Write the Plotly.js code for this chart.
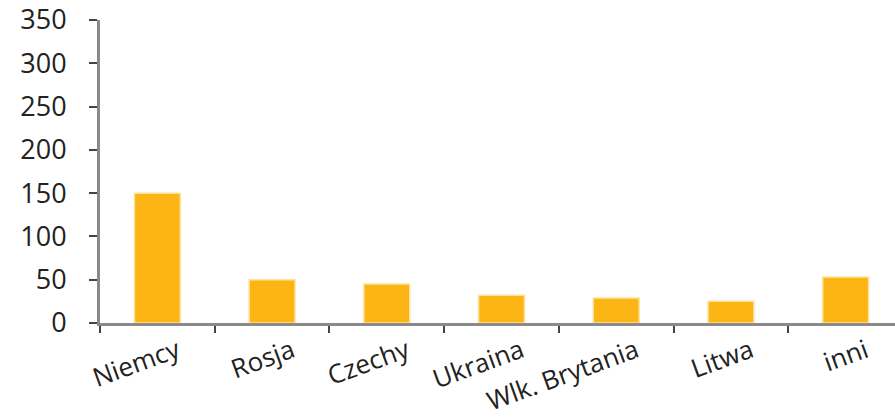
<!DOCTYPE html>
<html>
<head>
<meta charset="utf-8">
<script src="https://cdn.plot.ly/plotly-3.0.1.min.js"></script>
<style>html,body{margin:0;padding:0;background:#fff;}#chart{width:895px;height:419px;}</style>
</head>
<body>
<div id="chart"></div>
<script>
const categories = ["Niemcy", "Rosja", "Czechy", "Ukraina", "Wlk. Brytania", "Litwa", "inni"];
const values = [150, 50, 45, 32, 29, 25, 53];
const yTicks = [0, 50, 100, 150, 200, 250, 300, 350];

const trace = {
  type: "bar",
  x: categories,
  y: values,
  marker: {color: "#FCB515", line: {color: "#FFE39A", width: 1.5}},
  hoverinfo: "skip"
};

const layout = {
  width: 895, height: 419,
  margin: {l: 100, r: 0, t: 20, b: 96},
  paper_bgcolor: "#fff", plot_bgcolor: "#fff",
  bargap: 0.6,
  showlegend: false,
  font: {family: "Open Sans, sans-serif", color: "#222", size: 27},
  xaxis: {
    type: "category",
    range: [-0.5, 6.43],
    showline: true, linecolor: "#8a8a8a", linewidth: 3,
    ticks: "outside", tickson: "boundaries", ticklen: 7, tickwidth: 2, tickcolor: "#444",
    tickangle: -20,
    ticklabelshift: 20,
    ticklabelstandoff: 0,
    ticklabeloverflow: "allow",
    tickfont: {size: 26, color: "#222"},
    showgrid: false, zeroline: false
  },
  yaxis: {
    range: [0, 350],
    tickvals: yTicks,
    ticktext: yTicks.map(String),
    showline: true, linecolor: "#8a8a8a", linewidth: 3,
    ticks: "outside", ticklen: 8, tickwidth: 2, tickcolor: "#444",
    ticklabelstandoff: 17,
    ticklabeloverflow: "allow",
    tickfont: {size: 27, color: "#222"},
    showgrid: false, zeroline: false
  }
};

Plotly.newPlot("chart", [trace], layout, {displayModeBar: false, staticPlot: true});
</script>
</body>
</html>
